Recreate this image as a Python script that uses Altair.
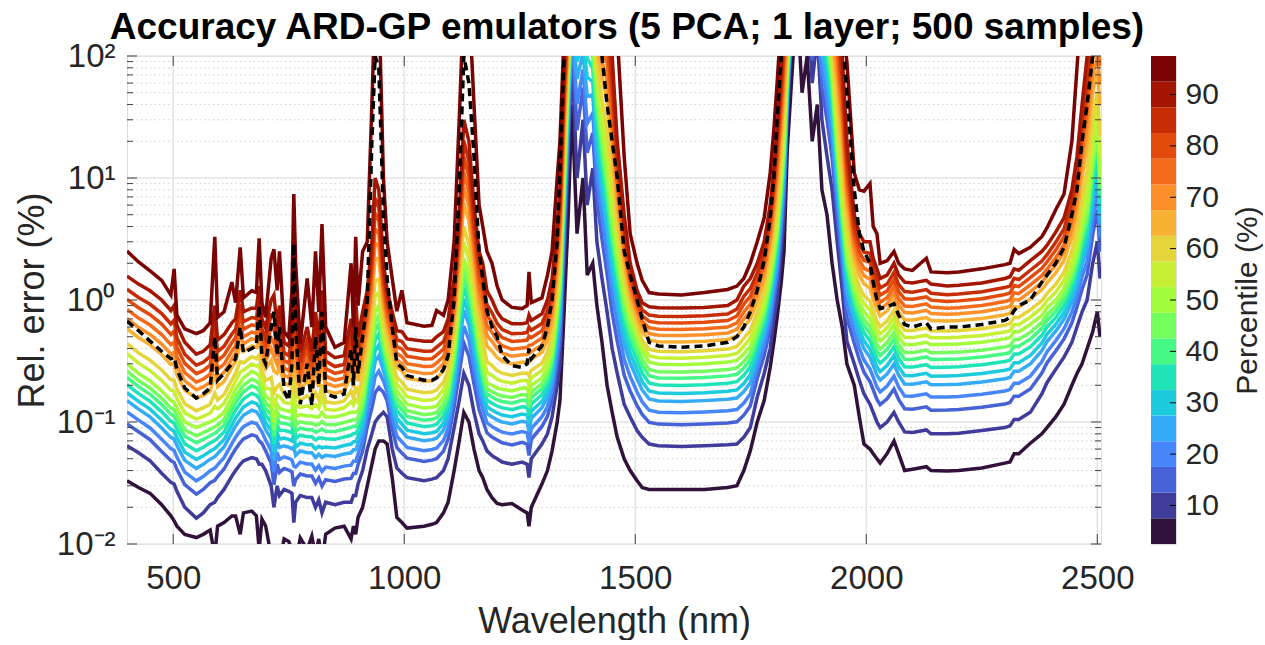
import altair as alt
import numpy as np
import pandas as pd

# ---------------- data ----------------
WL = [400, 425, 450, 475, 495, 502, 508, 525, 550, 565, 580, 590, 596, 610, 627, 635, 645, 652, 670, 680,
      686, 692, 700, 712, 718, 725, 730, 740, 750, 757, 761, 765, 775, 790, 800, 808, 815, 822, 830, 850,
      870, 885, 890, 895, 900, 910, 920, 930, 937, 945, 955, 963, 974, 984, 995, 1006, 1043, 1060, 1070, 1085,
      1095, 1108, 1119, 1129, 1140, 1151, 1162, 1170, 1179, 1190, 1201, 1212, 1233, 1255, 1266, 1270, 1275, 1298, 1310, 1320,
      1331, 1337, 1346, 1355, 1363, 1374, 1387, 1396, 1408, 1417, 1428, 1439, 1450, 1461, 1476, 1489, 1504, 1515, 1530, 1550,
      1600, 1650, 1700, 1720, 1735, 1749, 1764, 1779, 1792, 1800, 1807, 1816, 1822, 1829, 1840, 1850, 1861, 1872, 1883, 1894,
      1904, 1915, 1926, 1937, 1948, 1958, 1974, 1985, 1995, 2008, 2015, 2023, 2030, 2045, 2060, 2070, 2083, 2100, 2130, 2140,
      2175, 2200, 2250, 2300, 2311, 2320, 2330, 2355, 2380, 2391, 2410, 2428, 2445, 2456, 2467, 2478, 2490, 2500, 2506]

P5 = [0.033, 0.029, 0.026, 0.021, 0.017, 0.0155, 0.014, 0.012, 0.0113, 0.012, 0.013, 0.008, 0.014, 0.015, 0.017, 0.017, 0.012, 0.018, 0.0186, 0.017,
      0.009, 0.016, 0.0141, 0.008, 0.006, 0.009, 0.007, 0.011, 0.0105, 0.009, 0.005, 0.007, 0.0112, 0.009, 0.0116, 0.008, 0.011, 0.007, 0.012, 0.0135,
      0.014, 0.011, 0.014, 0.012, 0.0165, 0.02, 0.03, 0.045, 0.06, 0.07, 0.07, 0.066, 0.035, 0.0165, 0.015, 0.0135, 0.014, 0.0145, 0.015, 0.018,
      0.022, 0.04, 0.07, 0.12, 0.10, 0.06, 0.04, 0.035, 0.028, 0.024, 0.0215, 0.021, 0.0215, 0.019, 0.018, 0.014, 0.02, 0.031, 0.04, 0.058,
      0.1, 0.15, 0.8, 5, 40, 3.5, 10, 1.6, 2.0, 0.9, 0.45, 0.2, 0.12, 0.075, 0.05, 0.04, 0.033, 0.029, 0.028, 0.028,
      0.028, 0.028, 0.029, 0.03, 0.04, 0.058, 0.10, 0.15, 0.28, 0.45, 0.72, 1.4, 2.5, 17, 80, 300, 50, 100, 20, 40,
      8, 5, 2, 1.0, 0.6, 0.3, 0.2, 0.11, 0.066, 0.06, 0.055, 0.05, 0.046, 0.055, 0.07, 0.055, 0.04, 0.041, 0.043, 0.04,
      0.0396, 0.04, 0.042, 0.046, 0.047, 0.055, 0.055, 0.067, 0.08, 0.09, 0.11, 0.14, 0.2, 0.25, 0.3, 0.4, 0.55, 0.8, 0.5]

P10 = [0.064, 0.056, 0.048, 0.038, 0.032, 0.031, 0.027, 0.02, 0.0163, 0.018, 0.021, 0.022, 0.024, 0.028, 0.036, 0.04, 0.045, 0.048, 0.051, 0.05,
       0.045, 0.045, 0.04, 0.03, 0.02, 0.03, 0.025, 0.028, 0.027, 0.026, 0.015, 0.022, 0.025, 0.024, 0.024, 0.02, 0.023, 0.018, 0.022, 0.021,
       0.022, 0.022, 0.025, 0.025, 0.031, 0.04, 0.06, 0.08, 0.1, 0.11, 0.12, 0.11, 0.06, 0.042, 0.038, 0.035, 0.033, 0.034, 0.035, 0.04,
       0.05, 0.09, 0.15, 0.25, 0.2, 0.12, 0.08, 0.07, 0.058, 0.053, 0.05, 0.047, 0.045, 0.047, 0.045, 0.035, 0.05, 0.066, 0.08, 0.11,
       0.2, 0.3, 2, 15, 100, 10, 30, 6, 12, 3, 1.5, 0.8, 0.4, 0.25, 0.14, 0.11, 0.085, 0.075, 0.066, 0.064,
       0.063, 0.064, 0.065, 0.066, 0.075, 0.09, 0.16, 0.25, 0.4, 0.7, 1.0, 2.5, 5, 30, 200, 300, 150, 300, 60, 150,
       30, 15, 8, 3, 1.2, 0.46, 0.3, 0.22, 0.17, 0.14, 0.12, 0.1, 0.09, 0.1, 0.12, 0.1, 0.083, 0.082, 0.086, 0.08,
       0.08, 0.081, 0.085, 0.09, 0.093, 0.105, 0.105, 0.12, 0.17, 0.21, 0.27, 0.34, 0.45, 0.6, 0.8, 1.0, 2.0, 3.0, 1.5]

P50 = [0.30, 0.25, 0.217, 0.18, 0.15, 0.145, 0.13, 0.10, 0.09, 0.095, 0.10, 0.105, 0.108, 0.12, 0.16, 0.185, 0.21, 0.23, 0.26, 0.25,
       0.24, 0.2, 0.163, 0.15, 0.10, 0.14, 0.13, 0.125, 0.123, 0.12, 0.2, 0.11, 0.115, 0.112, 0.112, 0.11, 0.11, 0.12, 0.11, 0.11,
       0.115, 0.12, 0.12, 0.12, 0.123, 0.16, 0.3, 0.5, 0.8, 0.9, 0.5, 0.35, 0.25, 0.18, 0.16, 0.14, 0.13, 0.132, 0.135, 0.16,
       0.2, 0.4, 1.0, 2.2, 1.6, 0.9, 0.45, 0.3, 0.21, 0.2, 0.19, 0.185, 0.18, 0.19, 0.19, 0.17, 0.2, 0.23, 0.28, 0.38,
       0.9, 1.5, 10, 80, 300, 300, 300, 250, 150, 60, 25, 12, 5, 2.5, 1.1, 0.7, 0.5, 0.38, 0.31, 0.297,
       0.295, 0.30, 0.31, 0.32, 0.36, 0.42, 0.6, 0.9, 1.6, 2.5, 4, 10, 20, 80, 300, 300, 300, 300, 300, 300,
       300, 200, 80, 20, 6, 2.5, 1.3, 0.95, 0.8, 0.7, 0.6, 0.5, 0.46, 0.52, 0.63, 0.5, 0.43, 0.43, 0.45, 0.43,
       0.433, 0.435, 0.45, 0.48, 0.49, 0.55, 0.55, 0.63, 0.75, 0.86, 1.0, 1.25, 1.8, 2.5, 4, 6, 15, 30, 10]

P90 = [1.57, 1.35, 1.19, 1.0, 0.82, 0.9, 0.62, 0.45, 0.36, 0.38, 0.43, 0.9, 0.47, 0.52, 0.65, 0.7, 1.2, 0.8, 0.86, 0.85,
       1.3, 0.7, 0.59, 1.0, 1.1, 0.6, 0.9, 0.45, 0.42, 0.6, 2.0, 0.8, 0.37, 0.6, 0.38, 0.8, 0.45, 1.2, 0.38, 0.337,
       0.35, 0.7, 0.4, 1.0, 0.5, 0.8, 1.2, 3.0, 10, 8, 2.0, 1.2, 0.8, 0.56, 0.55, 0.48, 0.46, 0.46, 0.5, 0.55,
       0.7, 1.5, 5.0, 30, 20, 6, 2.5, 2.0, 1.19, 1.0, 0.8, 0.7, 0.64, 0.64, 0.65, 0.75, 0.68, 0.77, 1.0, 1.5,
       4, 8, 80, 300, 300, 300, 300, 300, 300, 300, 300, 300, 100, 20, 5, 2.0, 1.2, 0.95, 0.88, 0.865,
       0.86, 0.87, 0.9, 1.0, 1.3, 1.5, 2.0, 3.0, 6, 12, 25, 80, 200, 300, 300, 300, 300, 300, 300, 300,
       300, 300, 300, 300, 100, 20, 5, 3.5, 3.0, 3.0, 2.2, 1.8, 1.5, 1.6, 2.0, 1.6, 1.4, 1.38, 1.45, 1.35,
       1.3, 1.32, 1.38, 1.5, 1.55, 1.8, 1.75, 2.1, 2.5, 2.8, 3.6, 4.7, 8, 15, 40, 100, 300, 300, 300]

P95 = [2.52, 2.05, 1.73, 1.45, 1.1, 1.8, 0.75, 0.58, 0.53, 0.56, 0.65, 3.3, 0.72, 0.8, 1.4, 0.95, 2.7, 1.04, 1.19, 1.15,
       3.2, 0.95, 0.72, 2.2, 2.6, 1.2, 2.5, 0.55, 0.49, 1.2, 7.4, 2.0, 0.44, 1.5, 0.6, 2.5, 0.8, 4.2, 0.6, 0.41,
       0.45, 2.0, 0.6, 3.3, 0.9, 2.5, 3.0, 40, 300, 300, 10, 3.0, 1.5, 0.81, 1.2, 0.65, 0.61, 0.62, 0.82, 0.75,
       1.0, 3.0, 30, 300, 300, 40, 6, 4.0, 2.5, 2.0, 1.3, 1.0, 0.87, 0.85, 0.9, 1.7, 0.95, 1.04, 1.6, 2.5,
       10, 20, 150, 300, 300, 300, 300, 300, 300, 300, 300, 300, 300, 150, 15, 3.5, 2.0, 1.45, 1.15, 1.12,
       1.1, 1.15, 1.22, 1.3, 1.5, 2.0, 3.0, 4.7, 11, 25, 60, 200, 300, 300, 300, 300, 300, 300, 300, 300,
       300, 300, 300, 300, 200, 90, 11, 8, 7.8, 9, 4, 3.5, 2.0, 2.1, 2.5, 2.0, 1.8, 1.75, 2.2, 1.7,
       1.67, 1.7, 1.8, 1.95, 2.0, 2.6, 2.4, 2.7, 3.3, 3.9, 5.5, 7.4, 20, 80, 300, 300, 300, 300, 300]

MEAN = [0.67, 0.56, 0.46, 0.38, 0.33, 0.34, 0.27, 0.19, 0.157, 0.17, 0.19, 0.5, 0.22, 0.25, 0.3, 0.33, 0.6, 0.37, 0.4, 0.42,
        0.9, 0.35, 0.3, 0.6, 0.8, 0.35, 0.6, 0.18, 0.15, 0.3, 2.9, 0.6, 0.14, 0.3, 0.136, 0.5, 0.2, 0.8, 0.17, 0.16,
        0.17, 0.4, 0.2, 0.6, 0.25, 0.5, 1.0, 20, 100, 80, 5, 1.5, 0.6, 0.3, 0.28, 0.24, 0.22, 0.22, 0.23, 0.27,
        0.35, 1.0, 8, 100, 60, 15, 2.5, 1.5, 0.82, 0.6, 0.5, 0.35, 0.29, 0.28, 0.3, 0.4, 0.33, 0.42, 0.6, 1.0,
        3, 12, 100, 300, 300, 300, 300, 300, 300, 300, 100, 40, 20, 10, 2.5, 1.6, 1.0, 0.7, 0.45, 0.42,
        0.41, 0.42, 0.45, 0.5, 0.6, 0.8, 1.2, 2.1, 4.7, 10, 30, 100, 300, 300, 300, 300, 300, 300, 300, 300,
        300, 300, 300, 300, 150, 50, 8, 3.5, 2.5, 2.0, 1.4, 1.0, 0.85, 0.88, 0.93, 0.75, 0.63, 0.6, 0.65, 0.58,
        0.6, 0.6, 0.63, 0.68, 0.72, 0.82, 0.9, 1.0, 1.4, 1.6, 2.0, 2.7, 5, 8, 20, 40, 100, 150, 100]

# inner percentiles: position read at 1600 nm and 2200 nm, as a fraction of the
# log distance from the median towards the 90th / 10th percentile
UPPER_PCT = [55, 60, 65, 70, 75, 80, 85]
UPPER_FRAC = [0.115, 0.23, 0.40, 0.515, 0.62, 0.735, 0.85]
LOWER_PCT = [45, 40, 35, 30, 25, 20, 15]
LOWER_FRAC = [0.09, 0.167, 0.255, 0.353, 0.45, 0.588, 0.735]

PERCENTILES = [5, 10, 15, 20, 25, 30, 35, 40, 45, 50, 55, 60, 65, 70, 75, 80, 85, 90, 95]
X_TICKS = [500, 1000, 1500, 2000, 2500]
Y_TICKS = [0.01, 0.1, 1, 10, 100]
Y_TICK_TEXT = ["10⁻²", "10⁻¹", "10⁰", "10¹", "10²"]
Y_MINOR = [0.02, 0.03, 0.04, 0.05, 0.06, 0.07, 0.08, 0.09,
           0.2, 0.3, 0.4, 0.5, 0.6, 0.7, 0.8, 0.9,
           2, 3, 4, 5, 6, 7, 8, 9,
           20, 30, 40, 50, 60, 70, 80, 90]
CBAR_TICKS = [10, 20, 30, 40, 50, 60, 70, 80, 90]

# turbo colour map, 19 levels (bottom to top of the colour bar)
COLORS = ["#30123b", "#3f3c9b", "#4662d6", "#4686fa", "#35abf8", "#1dcbde", "#1ee4b8", "#46f884", "#74fe5d",
          "#a2fc3c", "#c7ef34", "#e5d53a", "#f9b134", "#fd8f2a", "#f46b1b", "#e24b0b", "#c62d04", "#a41602",
          "#7a0403"]

TITLE = "Accuracy ARD-GP emulators (5 PCA; 1 layer; 500 samples)"

# ---------------- build tables ----------------
l50 = np.log10(np.array(P50, float))
l90 = np.log10(np.array(P90, float))
l10 = np.log10(np.array(P10, float))
curves = {5: np.array(P5, float), 10: np.array(P10, float), 50: np.array(P50, float),
          90: np.array(P90, float), 95: np.array(P95, float)}
for p, f in zip(UPPER_PCT, UPPER_FRAC):
    curves[p] = 10 ** (l50 + f * (l90 - l50))
for p, f in zip(LOWER_PCT, LOWER_FRAC):
    curves[p] = 10 ** (l50 + f * (l10 - l50))

frames = []
for p in PERCENTILES:
    frames.append(pd.DataFrame({"wl": WL, "v": curves[p], "pct": p}))
df = pd.concat(frames, ignore_index=True)
df_mean = pd.DataFrame({"wl": WL, "v": MEAN})

W, H = 974, 488
FONT = "Liberation Sans"
TXT = "#262626"

xscale = alt.Scale(domain=[400, 2508], nice=False, zero=False)
yscale = alt.Scale(type="log", domain=[0.01, 100], nice=False)
cscale = alt.Scale(domain=PERCENTILES, range=COLORS)

label_expr = "[" + ",".join("'%s'" % s for s in Y_TICK_TEXT) + "][round(log(datum.value)/LN10)+2]"

x_axis = alt.Axis(values=X_TICKS, format="d", title="Wavelength (nm)", grid=False, ticks=False, domain=False,
                  labelFontSize=33, labelColor=TXT, labelPadding=18, labelFont=FONT,
                  titleFontSize=36, titleColor=TXT, titleFontWeight="normal", titlePadding=9, titleFont=FONT)
y_axis = alt.Axis(values=Y_TICKS, title="Rel. error (%)", grid=False, ticks=False, domain=False,
                  labelExpr=label_expr, labelFontSize=33, labelColor=TXT, labelPadding=12, labelFont=FONT,
                  titleFontSize=36, titleColor=TXT, titleFontWeight="normal", titlePadding=5, titleFont=FONT)


def X(field="wl"):
    return alt.X(field + ":Q", scale=xscale, axis=x_axis)


def Y(field="v"):
    return alt.Y(field + ":Q", scale=yscale, axis=y_axis)


# grid
ymaj = pd.DataFrame({"v": Y_TICKS})
ymin = pd.DataFrame({"v": Y_MINOR})
xmaj = pd.DataFrame({"wl": X_TICKS})

grid_minor = alt.Chart(ymin).mark_rule(color="#cfcfcf", strokeWidth=1, strokeDash=[1.5, 3]).encode(y=Y())
grid_major_y = alt.Chart(ymaj).mark_rule(color="#e3e3e3", strokeWidth=1.5).encode(y=Y())
grid_major_x = alt.Chart(xmaj).mark_rule(color="#e3e3e3", strokeWidth=1.5).encode(x=X())

lines = alt.Chart(df).mark_line(strokeWidth=3.5, clip=True).encode(
    x=X(), y=Y(),
    color=alt.Color("pct:O", scale=cscale, legend=None),
)
mean_line = alt.Chart(df_mean).mark_line(strokeWidth=3.5, color="black", strokeDash=[8, 5], clip=True).encode(
    x=X(), y=Y())

# inward tick marks (box on all four sides)
TK = "#404040"
tl_maj = alt.Chart(ymaj).mark_rule(color=TK, strokeWidth=1).encode(y=Y(), x=alt.value(0), x2=alt.value(10))
tl_min = alt.Chart(ymin).mark_rule(color=TK, strokeWidth=1).encode(y=Y(), x=alt.value(0), x2=alt.value(6))
tr_maj = alt.Chart(ymaj).mark_rule(color=TK, strokeWidth=1).encode(y=Y(), x=alt.value(W - 10), x2=alt.value(W))
tr_min = alt.Chart(ymin).mark_rule(color=TK, strokeWidth=1).encode(y=Y(), x=alt.value(W - 6), x2=alt.value(W))
tb = alt.Chart(xmaj).mark_rule(color=TK, strokeWidth=1).encode(x=X(), y=alt.value(H - 10), y2=alt.value(H))
tt = alt.Chart(xmaj).mark_rule(color=TK, strokeWidth=1).encode(x=X(), y=alt.value(0), y2=alt.value(10))

main = alt.layer(grid_minor, grid_major_y, grid_major_x, lines, mean_line,
                 tl_maj, tl_min, tr_maj, tr_min, tb, tt).properties(
    width=W, height=H,
    title=alt.TitleParams(TITLE, fontSize=37, fontWeight="bold", font=FONT, color="black",
                          anchor="middle", offset=-7, dx=13),
)

# colour bar
cb = pd.DataFrame({"pct": PERCENTILES})
cb["lo"] = cb["pct"] - 2.5
cb["hi"] = cb["pct"] + 2.5
cbscale = alt.Scale(domain=[2.5, 97.5], nice=False, zero=False)
cb_axis = alt.Axis(orient="right", values=CBAR_TICKS, title="Percentile (%)", grid=False, ticks=False,
                   domain=False, labelFontSize=30, labelColor=TXT, labelPadding=9, labelFont=FONT,
                   titleFontSize=30, titleColor=TXT, titleFontWeight="normal", titleAngle=270,
                   titleBaseline="top", titlePadding=14, titleFont=FONT)
cbar_rect = alt.Chart(cb).mark_rect().encode(
    y=alt.Y("lo:Q", scale=cbscale, axis=cb_axis), y2="hi:Q",
    x=alt.value(0), x2=alt.value(25),
    color=alt.Color("pct:O", scale=cscale, legend=None),
)
cbt = pd.DataFrame({"lo": CBAR_TICKS})
cbar_ticks = alt.Chart(cbt).mark_rule(color="black", strokeWidth=1).encode(
    y=alt.Y("lo:Q", scale=cbscale, axis=cb_axis), x=alt.value(19), x2=alt.value(25))
cbar = alt.layer(cbar_rect, cbar_ticks).properties(width=25, height=H)

chart = alt.hconcat(main, cbar, spacing=50, bounds="flush").properties(
    padding={"left": 13, "top": 8, "right": 0, "bottom": 0},
    background="white",
).configure_view(stroke="#555555", strokeWidth=1).configure(font=FONT)

chart.save("out.html", embed_options={"renderer": "svg", "actions": False})
